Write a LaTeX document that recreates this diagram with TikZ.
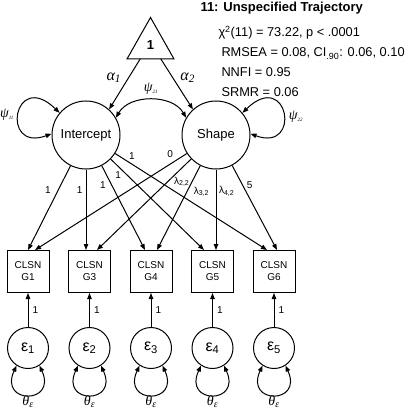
\documentclass[tikz,border=0pt]{standalone}
\usepackage{fontspec}
\setmainfont{Liberation Sans}
\newfontfamily\grkfont{Liberation Serif}
\usetikzlibrary{arrows.meta}
\usetikzlibrary{calc}
\usetikzlibrary{positioning}
\tikzset{
  latent/.style={draw, circle, minimum size=68pt, inner sep=0pt, font=\fontsize{13}{15}\selectfont},
  manifest/.style={draw, rectangle, minimum width=42pt, minimum height=42pt, inner sep=0pt, align=center, font=\fontsize{10}{12}\selectfont},
  resid/.style={draw, circle, minimum size=41pt, inner sep=0pt, font=\fontsize{16}{18}\selectfont},
  coef/.style={inner sep=1pt, font=\fontsize{10}{12}\selectfont},
  greek/.style={inner sep=0pt, font=\fontsize{14}{16}\grkfont\itshape},
  fitline/.style={anchor=base west, inner sep=0pt, font=\fontsize{12.8}{15}\selectfont},
}

\begin{document}
\begin{tikzpicture}[x=1pt, y=1pt, line width=1pt, >={Triangle[length=6pt,width=4.5pt]}]
  \useasboundingbox (0,0) rectangle (411,410);

  % mean structure and growth factors
  \coordinate (apex) at (150.5,392.5);
  \coordinate (bl) at (127,351);
  \coordinate (br) at (174,351);
  \draw [line join=miter] (apex) -- (bl) -- (br) -- cycle;
  \node [font=\fontsize{13}{15}\selectfont\bfseries] (one) at (150.5,365) {1};
  \node [latent] (int) at (86,275) {Intercept};
  \node [latent] (shp) at (216,275) {Shape};

  \coordinate (b1) at ($(bl)!0.28!(br)$);
  \coordinate (b2) at ($(bl)!0.72!(br)$);
  \draw [->] (b1) -- node[greek, font=\fontsize{16}{18}\grkfont\itshape, pos=0.375, left=7pt] (al1) {α\textsubscript{1}} (int.48);
  \draw [->] (b2) -- node[greek, font=\fontsize{16}{18}\grkfont\itshape, pos=0.375, right=7pt] (al2) {α\textsubscript{2}} (shp.132);

  \draw [<->] (int.30) to[bend left=60] node[greek, above=5pt] (psi21) {ψ\textsubscript{\tiny 21}} (shp.150);
  \draw [<->] (int.178) .. controls +(200:55) and +(136:64) .. (int.140);
  \draw [<->] (shp.2) .. controls +(340:55) and +(44:64) .. (shp.40);
  \node [greek] (psi11) at (7,295) {ψ\textsubscript{\tiny 11}};
  \node [greek] (psi22) at (296,293) {ψ\textsubscript{\tiny 22}};

  % observed CLSN scores
  \node [manifest] (g1) at (28,138.5) {CLSN\\G1};
  \node [manifest] (g3) at (89.5,138.5) {CLSN\\G3};
  \node [manifest] (g4) at (151,138.5) {CLSN\\G4};
  \node [manifest] (g5) at (212.5,138.5) {CLSN\\G5};
  \node [manifest] (g6) at (274,138.5) {CLSN\\G6};

  % loadings
  \draw [->] (int) -- node[coef, pos=0.29, left=6pt] {1} (g1.north);
  \draw [->] (int) -- node[coef, pos=0.26, left=2pt] {1} ([xshift=-3.5pt]g3.north);
  \draw [->] (int) -- node[coef, pos=0.23, left=4.5pt] {1} ([xshift=-6pt]g4.north);
  \draw [->] (int) -- node[coef, pos=0.18, left=5pt] {1} ([xshift=-8.5pt]g5.north);
  \draw [->] (int) -- node[coef, pos=0.11, above=3pt] {1} ([xshift=-7pt]g6.north);
  \draw [->] (shp) -- node[coef, pos=0.11, above=5pt] {0} ([xshift=7pt]g1.north);
  \draw [->] (shp) -- node[coef, pos=0.25, right=5pt] {λ\textsubscript{2,2}} ([xshift=7.5pt]g3.north);
  \draw [->] (shp) -- node[coef, pos=0.31, right=5.5pt] {λ\textsubscript{3,2}} ([xshift=6pt]g4.north);
  \draw [->] (shp) -- node[coef, pos=0.27, right=1.5pt] {λ\textsubscript{4,2}} ([xshift=3.5pt]g5.north);
  \draw [->] (shp) -- node[coef, pos=0.23, right=3pt] {5} ([xshift=3pt]g6.north);

  % residuals
  \foreach \i/\g in {1/g1, 2/g3, 3/g4, 4/g5, 5/g6} {
    \node [resid, below=34pt of \g] (e\i) {ε\textsubscript{\i}};
    \draw [->] (e\i) -- node[coef, right=3pt] {1} (\g);
    \draw [<->] (e\i.237) .. controls +(245:43) and +(295:43) .. (e\i.303);
    \node [greek, below=26pt of e\i] (th\i) {θ\textsubscript{ε}};
  }

  % fit statistics
  \node [fitline, font=\fontsize{13}{15}\selectfont\bfseries] (title) at (200,398.5) {11: Unspecified Trajectory};
  \node [fitline] (fit1) at (218,373.5) {χ\textsuperscript{2}(11) = 73.22, p < .0001};
  \node [fitline] (fit2) at (221,353) {RMSEA = 0.08, CI\textsubscript{.90}: 0.06, 0.10};
  \node [fitline] (fit3) at (221,333.5) {NNFI = 0.95};
  \node [fitline] (fit4) at (221,313.5) {SRMR = 0.06};
\end{tikzpicture}
\end{document}
